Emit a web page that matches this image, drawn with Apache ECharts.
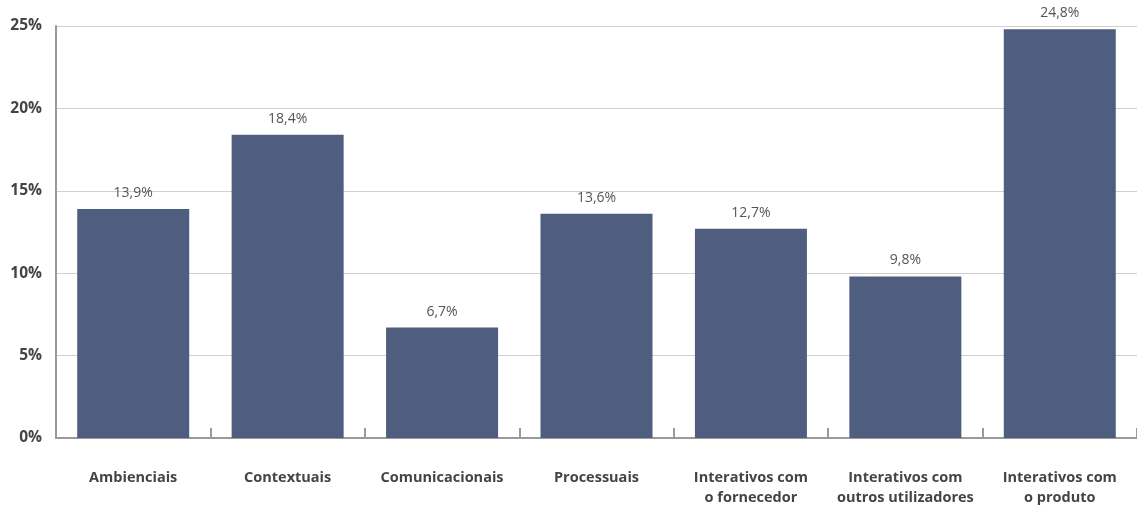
<!DOCTYPE html>
<html>
<head>
<meta charset="utf-8">
<style>
  html, body { margin: 0; padding: 0; background: #fff; }
  #chart { width: 1137px; height: 508px; }
</style>
<script src="https://cdn.jsdelivr.net/npm/echarts@6/dist/echarts.min.js"></script>
</head>
<body>
<div id="chart"></div>
<script>
// Categories of factors and their share (%)
const categories = [
  'Ambienciais',
  'Contextuais',
  'Comunicacionais',
  'Processuais',
  'Interativos com\no fornecedor',
  'Interativos com\noutros utilizadores',
  'Interativos com\no produto'
];
const shares = [13.9, 18.4, 6.7, 13.6, 12.7, 9.8, 24.8];
const yTicks = [0, 5, 10, 15, 20, 25];

const fontFamily = '"Open Sans", "Noto Sans", sans-serif';
const chart = echarts.init(document.getElementById('chart'));

chart.setOption({
  animation: false,
  grid: { left: 56, top: 26, width: 1085, height: 415, containLabel: false },
  xAxis: {
    type: 'category',
    data: categories,
    axisLine: { lineStyle: { color: '#9a9a9a', width: 2 } },
    axisTick: { show: true, inside: true, length: 10,
                lineStyle: { color: '#9a9a9a', width: 2 },
                interval: 0 },
    axisLabel: {
      interval: 0, margin: 30, color: '#444', fontFamily, fontWeight: 'bold',
      fontSize: 14.5, lineHeight: 20, verticalAlign: 'top'
    }
  },
  yAxis: {
    type: 'value',
    min: yTicks[0],
    max: yTicks[yTicks.length - 1],
    interval: 5,
    axisLine: { show: true, lineStyle: { color: '#9a9a9a', width: 2 } },
    axisTick: { show: false },
    splitLine: { lineStyle: { color: '#cfcfcf', width: 1 } },
    axisLabel: {
      margin: 14, color: '#444', fontFamily, fontWeight: 'bold', fontSize: 15.5,
      formatter: v => v + '%'
    }
  },
  series: [{
    type: 'bar',
    data: shares,
    barWidth: 112,
    itemStyle: { color: '#4f5d7e' },
    label: {
      show: true, position: 'top', distance: 9,
      color: '#555', fontFamily, fontSize: 14,
      formatter: p => p.value.toFixed(1).replace('.', ',') + '%'
    }
  }]
});
</script>
</body>
</html>
